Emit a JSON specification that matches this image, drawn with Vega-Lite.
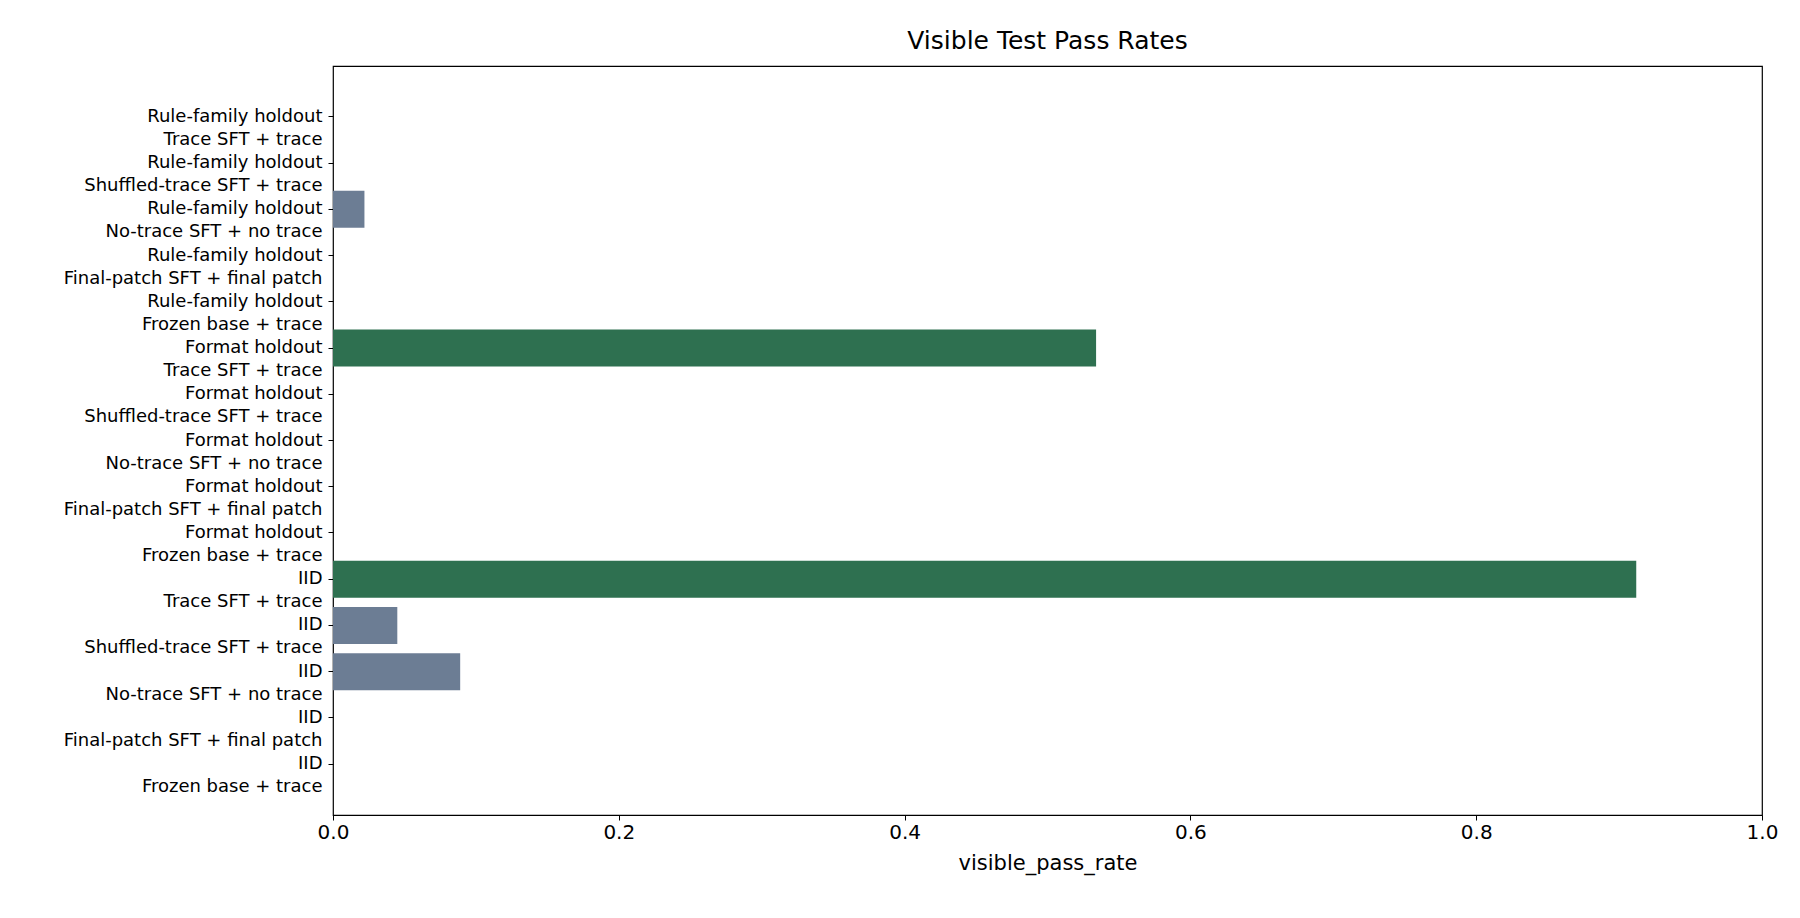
{
  "$schema": "https://vega.github.io/schema/vega-lite/v6.json",
  "width": 1429,
  "height": 749,
  "autosize": {"type": "none"},
  "padding": {"left": 333, "top": 66, "right": 38, "bottom": 103},
  "background": "white",
  "config": {
    "font": "DejaVu Sans",
    "view": {"stroke": "black", "strokeWidth": 1.2},
    "axis": {"grid": false, "domainColor": "black", "tickColor": "black", "labelColor": "black", "titleColor": "black", "titleFontWeight": "normal"}
  },
  "title": {"text": "Visible Test Pass Rates", "fontSize": 25, "fontWeight": "normal", "font": "DejaVu Sans", "offset": 12},
  "data": {
    "values": [
      {"split": "Rule-family holdout", "condition": "Trace SFT + trace", "visible_pass_rate": 0},
      {"split": "Rule-family holdout", "condition": "Shuffled-trace SFT + trace", "visible_pass_rate": 0},
      {"split": "Rule-family holdout", "condition": "No-trace SFT + no trace", "visible_pass_rate": 0.022},
      {"split": "Rule-family holdout", "condition": "Final-patch SFT + final patch", "visible_pass_rate": 0},
      {"split": "Rule-family holdout", "condition": "Frozen base + trace", "visible_pass_rate": 0},
      {"split": "Format holdout", "condition": "Trace SFT + trace", "visible_pass_rate": 0.534},
      {"split": "Format holdout", "condition": "Shuffled-trace SFT + trace", "visible_pass_rate": 0},
      {"split": "Format holdout", "condition": "No-trace SFT + no trace", "visible_pass_rate": 0},
      {"split": "Format holdout", "condition": "Final-patch SFT + final patch", "visible_pass_rate": 0},
      {"split": "Format holdout", "condition": "Frozen base + trace", "visible_pass_rate": 0},
      {"split": "IID", "condition": "Trace SFT + trace", "visible_pass_rate": 0.912},
      {"split": "IID", "condition": "Shuffled-trace SFT + trace", "visible_pass_rate": 0.045},
      {"split": "IID", "condition": "No-trace SFT + no trace", "visible_pass_rate": 0.089},
      {"split": "IID", "condition": "Final-patch SFT + final patch", "visible_pass_rate": 0},
      {"split": "IID", "condition": "Frozen base + trace", "visible_pass_rate": 0}
    ]
  },
  "transform": [
    {"window": [{"op": "row_number", "as": "idx"}]},
    {"calculate": "datum.split + '|' + datum.condition", "as": "label"}
  ],
  "mark": {"type": "bar"},
  "encoding": {
    "y": {
      "field": "label",
      "type": "nominal",
      "sort": {"field": "idx", "order": "ascending"},
      "scale": {"paddingInner": 0.2, "paddingOuter": 0.7},
      "axis": {
        "title": null,
        "labelExpr": "split(datum.value, '|')",
        "labelFontSize": 18,
        "labelLineHeight": 23,
        "labelPadding": 6,
        "labelLimit": 400,
        "tickSize": 5,
        "domain": false,
        "labelBaseline": "middle"
      }
    },
    "x": {
      "field": "visible_pass_rate",
      "type": "quantitative",
      "scale": {"domain": [0, 1], "nice": false},
      "axis": {"title": "visible_pass_rate", "titleFontSize": 21, "labelFontSize": 20, "values": [0, 0.2, 0.4, 0.6, 0.8, 1], "format": ".1f", "labelOverlap": false, "labelFlush": false, "tickSize": 5, "titlePadding": 10, "domain": false}
    },
    "color": {
      "condition": {"test": "datum.condition === 'Trace SFT + trace'", "value": "#2e7050"},
      "value": "#6c7d94"
    }
  }
}
